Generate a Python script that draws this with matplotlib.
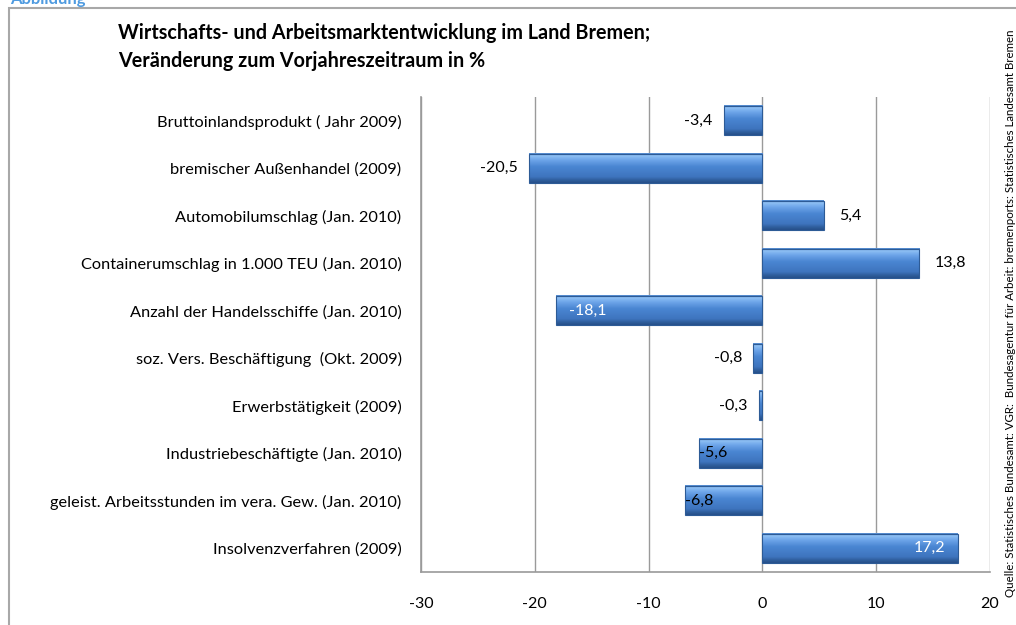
import numpy as np
import matplotlib
matplotlib.use("Agg")
import matplotlib.pyplot as plt
from matplotlib.colors import LinearSegmentedColormap
from matplotlib.patches import Rectangle
from matplotlib import rcParams

rcParams["font.family"] = ["Lato", "DejaVu Sans"]

# -----------------------------------------------------------------------------
# Data
# -----------------------------------------------------------------------------

categories = [
    "Bruttoinlandsprodukt ( Jahr 2009)",
    "bremischer Außenhandel (2009)",
    "Automobilumschlag (Jan. 2010)",
    "Containerumschlag in 1.000 TEU (Jan. 2010)",
    "Anzahl der Handelsschiffe (Jan. 2010)",
    "soz. Vers. Beschäftigung  (Okt. 2009)",
    "Erwerbstätigkeit (2009)",
    "Industriebeschäftigte (Jan. 2010)",
    "geleist. Arbeitsstunden im vera. Gew. (Jan. 2010)",
    "Insolvenzverfahren (2009)",
]
values = [-3.4, -20.5, 5.4, 13.8, -18.1, -0.8, -0.3, -5.6, -6.8, 17.2]
# where Excel put each value label
label_modes = ["out", "out", "out", "out", "in", "out", "out", "over", "over", "in"]
x_ticks = [-30, -20, -10, 0, 10, 20]

title = ("Wirtschafts- und Arbeitsmarktentwicklung im Land Bremen;\n"
         "Veränderung zum Vorjahreszeitraum in %")
source = ("Quelle: Statistisches Bundesamt: VGR:  Bundesagentur für Arbeit: "
          "bremenports: Statistisches Landesamt Bremen")

# -----------------------------------------------------------------------------
# Plot
# -----------------------------------------------------------------------------

fig = plt.figure(figsize=(10.16, 6.25), dpi=100)
ax = fig.add_axes([421 / 1016, 1 - 572 / 625, 569 / 1016, 475 / 625])

bar_cmap = LinearSegmentedColormap.from_list(
    "bevel",
    [(0.0, "#4F86CC"), (0.08, "#8FC1F4"), (0.22, "#6FA6EA"),
     (0.45, "#4A86D2"), (0.8, "#3E74BE"), (0.9, "#30609F"), (1.0, "#27508A")],
)
grad = np.linspace(0, 1, 64).reshape(-1, 1)

h = 0.62
ypos = np.arange(len(values))
for y, v in zip(ypos, values):
    ax.imshow(grad, cmap=bar_cmap, aspect="auto", interpolation="bilinear",
              extent=(0, v, y + h / 2, y - h / 2), zorder=3)
ax.barh(ypos, values, height=h, color="none", edgecolor="#2D5B96",
        linewidth=0.8, zorder=4)

for y, v, mode in zip(ypos, values, label_modes):
    txt = f"{v:.1f}".replace(".", ",")
    sign = 1 if v >= 0 else -1
    if mode == "out":
        off = 1.3 if v >= 0 else 1.0
        ax.text(v + sign * off, y, txt, ha="left" if v >= 0 else "right",
                va="center", fontsize=11.5, color="black", zorder=5)
    elif mode == "over":
        ax.text(v, y, txt, ha="left", va="center", fontsize=11.5,
                color="black", zorder=5)
    else:
        ax.text(v - sign * 1.1, y, txt, ha="right" if v >= 0 else "left",
                va="center", fontsize=11.5, color="white", zorder=5)

ax.set_xlim(x_ticks[0], x_ticks[-1])
ax.set_ylim(len(values) - 0.5, -0.5)
ax.set_xticks(x_ticks)
ax.set_xticklabels([str(t) for t in x_ticks], fontsize=11.5)
ax.set_yticks(ypos)
ax.set_yticklabels(categories, fontsize=11.8)
ax.tick_params(axis="both", length=0)
ax.tick_params(axis="x", pad=18)
ax.tick_params(axis="y", pad=14)
ax.grid(axis="x", color="#9A9A9A", linewidth=1)
ax.set_axisbelow(True)
for side in ["top", "right"]:
    ax.spines[side].set_visible(False)
for side in ["left", "bottom"]:
    ax.spines[side].set_color("#9A9A9A")
    ax.spines[side].set_linewidth(1.2)

# Title & frame
fig.text(118 / 1016, 1 - 23 / 625, title, ha="left", va="top",
         fontsize=14.2, fontweight="bold", linespacing=1.5)
fig.text(10 / 1016, 1 - 4 / 625, "Abbildung", ha="left", va="baseline",
         fontsize=12, fontweight="bold", color="#4F9BE0")
fig.patches.append(Rectangle((9 / 1016, -0.1), 1.2, 1 - 8 / 625 + 0.1,
                             transform=fig.transFigure, fill=False,
                             edgecolor="#A8A8A8", linewidth=1.5))
fig.text(1010 / 1016, 1 - 313 / 625, source, rotation=90, ha="center",
         va="center", fontsize=8.3, color="black")

fig.savefig("out.png", dpi=100)
